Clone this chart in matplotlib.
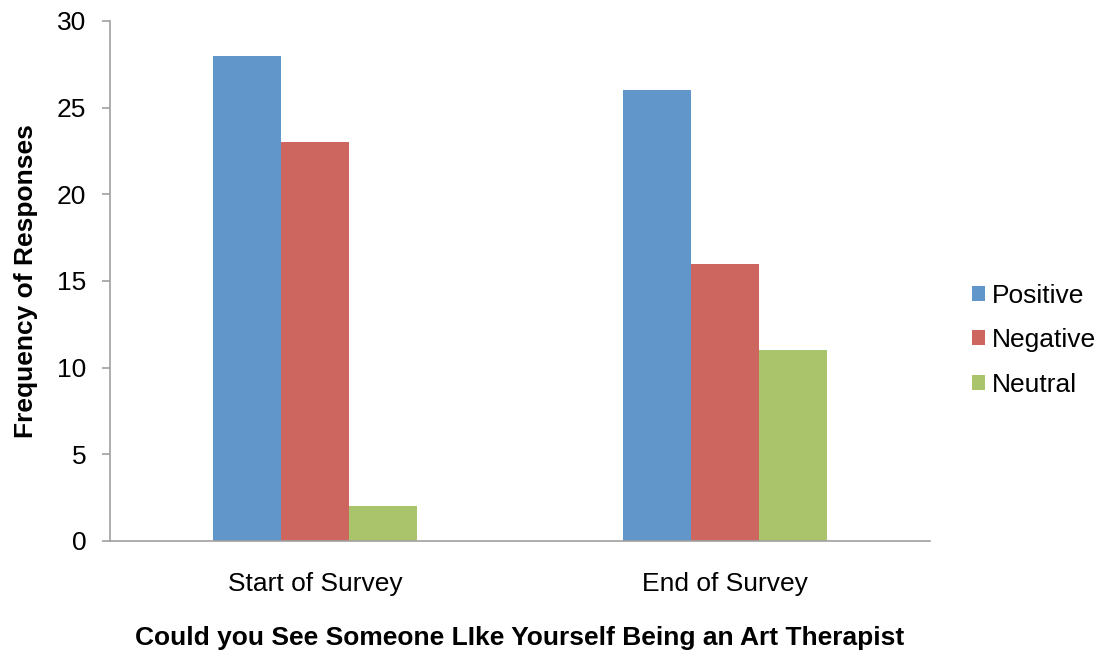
import numpy as np
import matplotlib.pyplot as plt

plt.rcParams['font.family'] = ['Liberation Sans', 'DejaVu Sans']

# Data
categories = ['Start of Survey', 'End of Survey']
series_names = ['Positive', 'Negative', 'Neutral']
positive = [28, 26]
negative = [23, 16]
neutral = [2, 11]
colors = ['#6196CB', '#CC665F', '#A9C46B']

fig = plt.figure(figsize=(11.07, 6.54), dpi=100)
ax = fig.add_axes([110 / 1107, 1 - 541 / 654, 820 / 1107, 520 / 654])

x = np.arange(len(categories))
width = 0.166
for i, (vals, name) in enumerate(zip([positive, negative, neutral], series_names)):
    ax.bar(x + (i - 1) * width, vals, width, color=colors[i], label=name, zorder=2)

ax.set_xlim(-0.5, 1.5)
ax.set_ylim(0, 30)
ax.set_yticks(range(0, 31, 5))
ax.set_xticks(x)
ax.set_xticklabels(categories)
ax.tick_params(axis='y', length=6, width=1.2, color='#A0A0A0', labelsize=19, pad=11)
ax.tick_params(axis='x', length=0, labelsize=19, pad=22)

for s in ['top', 'right']:
    ax.spines[s].set_visible(False)
for s in ['left', 'bottom']:
    ax.spines[s].set_color('#A0A0A0')
    ax.spines[s].set_linewidth(1.2)

ax.set_ylabel('Frequency of Responses', fontsize=19, fontweight='bold', labelpad=14)
ax.set_xlabel('Could you See Someone LIke Yourself Being an Art Therapist',
              fontsize=19, fontweight='bold', labelpad=22)

ax.legend(loc='center left', bbox_to_anchor=(1.051, 0.386), frameon=False,
          fontsize=19, handlelength=0.5, handleheight=0.5, handletextpad=0.25,
          labelspacing=0.78, borderpad=0, borderaxespad=0)

fig.savefig('out.png', dpi=100)
